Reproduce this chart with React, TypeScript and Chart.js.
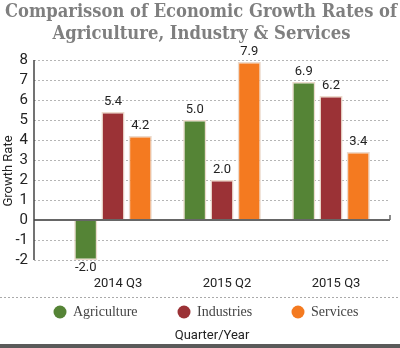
import React, { useEffect, useRef } from "react";
import { Chart, registerables } from "chart.js";

Chart.register(...registerables);

const categories = ["2014 Q3", "2015 Q2", "2015 Q3"];
const seriesNames = ["Agriculture", "Industries", "Services"];
const agriculture = [-2.0, 5.0, 6.9];
const industries = [5.4, 2.0, 6.2];
const services = [4.2, 7.9, 3.4];
const seriesColors = ["#558436", "#9b3236", "#f47a20"];
const titleLines = ["Comparisson of Economic Growth Rates of", "Agriculture, Industry & Services"];
const xTitle = "Quarter/Year";
const yTitle = "Growth Rate";
const yMin = -2;
const yMax = 8;

const SANS = "Roboto, 'Open Sans', sans-serif";

function fitText(ctx: CanvasRenderingContext2D, text: string, cx: number, y: number, width: number) {
  const w = ctx.measureText(text).width;
  const s = Math.min(1, width / w);
  ctx.save();
  ctx.translate(cx, y);
  ctx.scale(s, 1);
  ctx.textAlign = "center";
  ctx.fillText(text, 0, 0);
  ctx.restore();
}

const decorPlugin = {
  id: "decor",
  beforeDraw(chart: any) {
    const { ctx, width, height } = chart;
    ctx.save();
    ctx.fillStyle = "#ffffff";
    ctx.fillRect(0, 0, width, height);
    ctx.restore();
  },
  afterDraw(chart: any) {
    const { ctx, chartArea } = chart;
    const yScale = chart.scales.y;
    ctx.save();
    // title
    ctx.fillStyle = "#7f7f7f";
    ctx.font = "bold 19px 'DejaVu Serif'";
    ctx.textBaseline = "alphabetic";
    fitText(ctx, titleLines[0], 201, 17, 392);
    fitText(ctx, titleLines[1], 201.5, 39, 298);

    // y axis line
    ctx.strokeStyle = "#444";
    ctx.lineWidth = 1.5;
    ctx.beginPath();
    ctx.moveTo(chartArea.left, yScale.getPixelForValue(yMax));
    ctx.lineTo(chartArea.left, yScale.getPixelForValue(yMin));
    ctx.stroke();

    // zero line end tick
    const y0 = yScale.getPixelForValue(0);
    ctx.strokeStyle = "#666";
    ctx.lineWidth = 1.5;
    ctx.beginPath();
    ctx.moveTo(chartArea.right, y0);
    ctx.lineTo(chartArea.right, y0 - 5);
    ctx.stroke();

    // y title
    ctx.save();
    ctx.translate(9, 171);
    ctx.rotate(-Math.PI / 2);
    ctx.fillStyle = "#222";
    ctx.font = `13px ${SANS}`;
    ctx.textAlign = "center";
    ctx.textBaseline = "middle";
    ctx.fillText(yTitle, 0, 0);
    ctx.restore();

    // separator
    ctx.strokeStyle = "#aaa";
    ctx.lineWidth = 1;
    ctx.setLineDash([2, 2]);
    ctx.beginPath();
    ctx.moveTo(0, 297.5);
    ctx.lineTo(400, 297.5);
    ctx.stroke();
    ctx.setLineDash([]);

    // legend
    const circleX = [60, 184, 298];
    ctx.font = "14px 'Liberation Serif', serif";
    ctx.textBaseline = "middle";
    ctx.textAlign = "left";
    chart.data.datasets.forEach((ds: any, i: number) => {
      ctx.fillStyle = ds.backgroundColor;
      ctx.beginPath();
      ctx.arc(circleX[i], 312, 6.5, 0, Math.PI * 2);
      ctx.fill();
      ctx.fillStyle = "#444";
      ctx.fillText(ds.label, circleX[i] + 13, 312.5);
    });

    // x title
    ctx.fillStyle = "#222";
    ctx.font = `13px ${SANS}`;
    ctx.textAlign = "center";
    ctx.textBaseline = "middle";
    ctx.fillText(xTitle, 212, 336);

    // bottom bar
    ctx.fillStyle = "#5a5a5a";
    ctx.fillRect(0, 344, 400, 4);
    ctx.restore();
  },
};

const valueLabelPlugin = {
  id: "valueLabels",
  afterDatasetsDraw(chart: any) {
    const { ctx } = chart;
    ctx.save();
    ctx.font = `13px ${SANS}`;
    ctx.fillStyle = "#222";
    ctx.textAlign = "center";
    ctx.textBaseline = "middle";
    chart.data.datasets.forEach((ds: any, di: number) => {
      const meta = chart.getDatasetMeta(di);
      meta.data.forEach((bar: any, i: number) => {
        const v = ds.data[i].y;
        const y = v >= 0 ? bar.y - 10 : bar.y + 8;
        ctx.fillText(v.toFixed(1), bar.x, y);
      });
    });
    ctx.restore();
  },
};

export default function App() {
  const ref = useRef<HTMLCanvasElement | null>(null);
  useEffect(() => {
    if (!ref.current) return;
    const series = [agriculture, industries, services];
    const chart = new Chart(ref.current, {
      type: "bar",
      data: {
        datasets: series.map((vals, si) => ({
          label: seriesNames[si],
          data: vals.map((v, i) => ({ x: i + 1, y: v })),
          backgroundColor: seriesColors[si],
          borderColor: "rgba(236,218,204,1)",
          borderWidth: 1.5,
          categoryPercentage: 0.75,
          barPercentage: 0.85,
        })),
      },
      options: {
        animation: false,
        responsive: false,
        devicePixelRatio: 1,
        layout: { padding: { top: 60, right: 10, bottom: 48, left: 0 } },
        plugins: {
          legend: { display: false },
          tooltip: { enabled: false },
          title: { display: false },
        },
        scales: {
          x: {
            type: "linear",
            offset: false,
            min: 0.2752,
            max: 3.541,
            afterBuildTicks: (scale: any) => {
              scale.ticks = categories.map((_, i) => ({ value: i + 1 }));
            },
            afterFit: (scale: any) => {
              scale.height = 40;
            },
            grid: { display: false, drawTicks: false, offset: false },
            border: { display: false },
            ticks: {
              autoSkip: false,
              maxRotation: 0,
              padding: 16,
              labelOffset: 5,
              color: "#222",
              font: { family: SANS, size: 13 },
              callback: (v: any) => categories[Math.round(v) - 1] ?? "",
            },
          },
          y: {
            min: yMin,
            max: yMax,
            afterFit: (scale: any) => {
              scale.width = 34;
            },
            ticks: {
              stepSize: 1,
              autoSkip: false,
              padding: 6,
              color: "#222",
              font: { family: SANS, size: 15 },
            },
            grid: {
              drawTicks: false,
              color: (c: any) => (c.tick && c.tick.value === 0 ? "#666" : "#b5b5b5"),
              lineWidth: (c: any) => (c.tick && c.tick.value === 0 ? 2 : 1),
            },
            border: {
              display: false,
              dash: (c: any) => (c.tick && c.tick.value === 0 ? [] : [2, 2]),
            },
          },
        },
      },
      plugins: [decorPlugin, valueLabelPlugin],
    } as any);
    return () => chart.destroy();
  }, []);
  return (
    <div style={{ position: "fixed", left: 0, top: 0, width: 400, height: 348 }}>
      <canvas ref={ref} width={400} height={348} style={{ width: 400, height: 348, display: "block" }} />
    </div>
  );
}
